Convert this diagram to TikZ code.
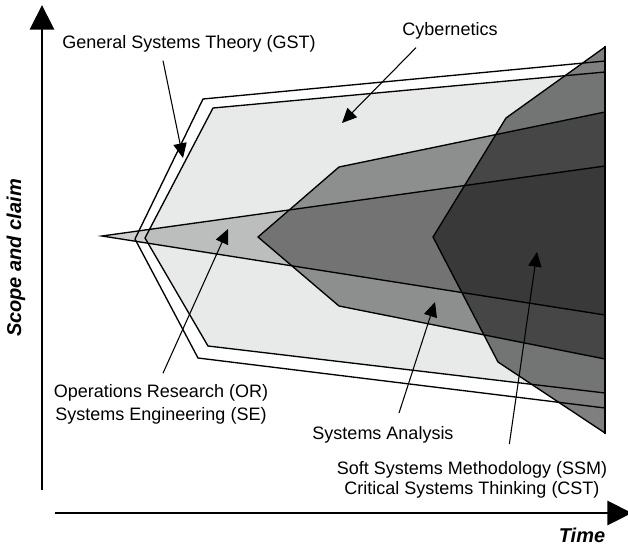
\documentclass[tikz,border=0pt]{standalone}
\usepackage{fontspec}
\setmainfont{Liberation Sans}
\usetikzlibrary{arrows.meta, positioning}
\definecolor{cyberfill}{RGB}{232, 233, 233}

\begin{document}
\begin{tikzpicture}[
    x=0.75pt, y=-0.75pt,
    label/.style={
        font=\fontsize{13.5}{16}\selectfont,
        inner sep=1pt
    },
    axislabel/.style={
        font=\fontsize{15}{18}\selectfont\bfseries\itshape,
        inner sep=0pt
    },
    arrow/.style={
        -{Triangle[length=11pt, width=10pt]},
        line width=0.8pt
    },
    axisline/.style={
        -{Triangle[length=18.5pt, width=18pt]},
        line width=2.2pt
    },
    region/.style={
        draw=black,
        line width=1pt
    }
]

% Page size
\useasboundingbox (0,0) rectangle (628,547);

% Axes
\draw[axisline] (42,490) -- (42,5);
\draw[axisline] (55,513) -- (632,513);
\node[axislabel, rotate=90] (scope) at (16,258) {Scope and claim};
\node[axislabel] (time) at (582,535) {Time};

% General Systems Theory
\draw[region, fill=white] (135,239) -- (203,99) -- (605,61) -- (605,408) -- (198,358) -- cycle;

% Cybernetics
\draw[region, fill=cyberfill] (145,238) -- (213,108) -- (605,72) -- (605,393) -- (208,346) -- cycle;

% Operations Research / Systems Engineering
\draw[region, fill=black, fill opacity=0.19] (102,236) -- (605,166) -- (605,315) -- cycle;

% Systems Analysis
\draw[region, fill=black, fill opacity=0.39] (258,237) -- (339,167) -- (605,112) -- (605,359) -- (339,306) -- cycle;

% Soft Systems Methodology / Critical Systems Thinking
\draw[region, fill=black, fill opacity=0.5] (605,47) -- (506,118) -- (433,237) -- (498,362) -- (605,433) -- cycle;

% Right edge
\draw[line width=2.2pt] (605,46) -- (605,434);

% Labels
\node[label] (gst) at (189,44) {General Systems Theory (GST)};
\node[label] (cyb) at (450,31) {Cybernetics};
\node[label, align=center, font=\fontsize{13.5}{17.25}\selectfont] (orse) at (161,404) {Operations Research (OR)\\Systems Engineering (SE)};
\node[label] (sa) at (383,435) {Systems Analysis};
\node[label, align=center, font=\fontsize{13.5}{15}\selectfont] (ssm) at (472,480) {Soft Systems Methodology (SSM)\\Critical Systems Thinking (CST)};

% Pointer tips
\coordinate (gst tip) at (183,158);
\coordinate (cyb tip) at (342,123);
\coordinate (orse tip) at (228,229);
\coordinate (sa tip) at (435,302);
\coordinate (ssm tip) at (537,252);

% Pointers
\draw[arrow] ([xshift=-19.5pt, yshift=-5pt]gst.south) -- (gst tip);
\draw[arrow] ([xshift=-25.5pt, yshift=-5pt]cyb.south) -- (cyb tip);
\draw[arrow] ([xshift=1.5pt, yshift=7pt]orse.north) -- (orse tip);
\draw[arrow] ([xshift=12pt, yshift=9pt]sa.north) -- (sa tip);
\draw[arrow] ([xshift=28pt, yshift=12pt]ssm.north) -- (ssm tip);

\end{tikzpicture}
\end{document}
